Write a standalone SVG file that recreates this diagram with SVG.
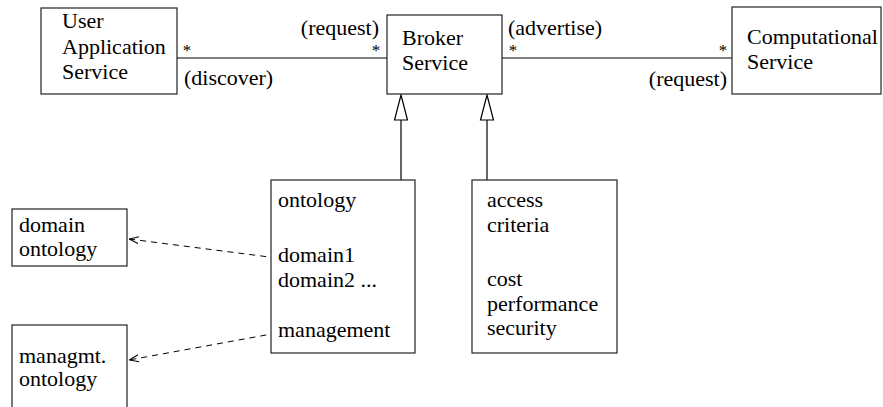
<svg xmlns="http://www.w3.org/2000/svg" width="883" height="407" viewBox="0 0 883 407">
  <defs>
    <style>
      .lbl { font-family: "Liberation Serif", "DejaVu Serif", "Times New Roman", serif; font-size: 22px; fill: #000; }
      .mult { font-family: "Liberation Serif", "DejaVu Serif", "Times New Roman", serif; font-size: 17px; fill: #000; text-anchor: middle; }
      .box { fill: #fff; stroke: #222; stroke-width: 1.2; }
      .assoc { stroke: #000; stroke-width: 1.2; fill: none; }
      .dep { stroke: #000; stroke-width: 1; fill: none; stroke-dasharray: 6 5; }
      .gen { fill: #fff; stroke: #000; stroke-width: 1.2; }
    </style>
    <marker id="open" viewBox="0 0 10 10" refX="10" refY="5" markerWidth="10" markerHeight="10" markerUnits="userSpaceOnUse" orient="auto">
      <path d="M0,1.5 L10,5 L0,8.5" fill="none" stroke="#000" stroke-width="1"/>
    </marker>
  </defs>

  <rect width="883" height="407" fill="#fff"/>

  <!-- connectors -->
  <g id="connectors">
    <line class="assoc" x1="177" y1="58" x2="387" y2="58"/>
    <line class="assoc" x1="502" y1="58" x2="732" y2="58"/>
    <!-- generalization to Broker Service -->
    <line class="assoc" x1="401" y1="120" x2="401" y2="180"/>
    <polygon class="gen" points="401,95 394.5,120 407.5,120"/>
    <line class="assoc" x1="487" y1="120" x2="487" y2="180"/>
    <polygon class="gen" points="487,95 480.5,120 493.5,120"/>
    <!-- dependencies -->
    <path class="dep" d="M277,258 L129,239" marker-end="url(#open)"/>
    <path class="dep" d="M277,333 L129,360" marker-end="url(#open)"/>
    <!-- association end labels -->
    <text class="mult" x="187" y="56">*</text>
    <text class="lbl" x="184" y="85">(discover)</text>
    <text class="lbl" x="379" y="35" text-anchor="end">(request)</text>
    <text class="mult" x="376" y="56">*</text>
    <text class="lbl" x="508" y="35">(advertise)</text>
    <text class="mult" x="513" y="56">*</text>
    <text class="mult" x="723" y="56">*</text>
    <text class="lbl" x="727" y="86" text-anchor="end">(request)</text>
  </g>

  <g id="user-app">
    <rect class="box" x="41" y="8" width="136" height="86"/>
    <text class="lbl" x="62" y="28">User</text>
    <text class="lbl" x="62" y="54">Application</text>
    <text class="lbl" x="62" y="79">Service</text>
  </g>

  <g id="broker">
    <rect class="box" x="387" y="15" width="115" height="79"/>
    <text class="lbl" x="402" y="45">Broker</text>
    <text class="lbl" x="402" y="70">Service</text>
  </g>

  <g id="computational">
    <rect class="box" x="732" y="7" width="149" height="87"/>
    <text class="lbl" x="747" y="44">Computational</text>
    <text class="lbl" x="747" y="69">Service</text>
  </g>

  <g id="ontology">
    <rect class="box" x="271" y="180" width="144" height="173"/>
    <text class="lbl" x="278" y="207">ontology</text>
    <text class="lbl" x="278" y="262">domain1</text>
    <text class="lbl" x="278" y="287">domain2 ...</text>
    <text class="lbl" x="278" y="337">management</text>
  </g>

  <g id="access">
    <rect class="box" x="472" y="180" width="145" height="173"/>
    <text class="lbl" x="487" y="207">access</text>
    <text class="lbl" x="487" y="232">criteria</text>
    <text class="lbl" x="487" y="286">cost</text>
    <text class="lbl" x="487" y="311">performance</text>
    <text class="lbl" x="487" y="335">security</text>
  </g>

  <g id="domain-ontology">
    <rect class="box" x="12" y="209" width="115" height="57"/>
    <text class="lbl" x="19" y="232">domain</text>
    <text class="lbl" x="19" y="256">ontology</text>
  </g>

  <g id="managmt-ontology">
    <rect class="box" x="12" y="325" width="115" height="100"/>
    <text class="lbl" x="19" y="363">managmt.</text>
    <text class="lbl" x="19" y="386">ontology</text>
  </g>
</svg>
